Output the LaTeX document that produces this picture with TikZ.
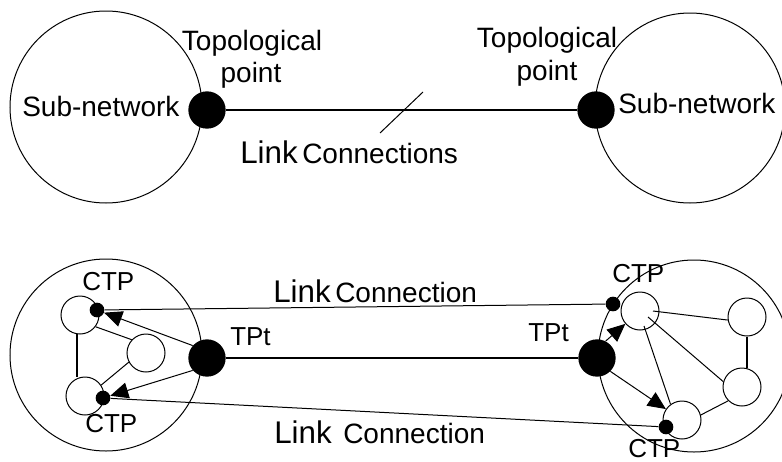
\documentclass[tikz,border=0pt]{standalone}
\usepackage{fontspec}
\setmainfont{Liberation Sans}
\usetikzlibrary{arrows.meta}
\tikzset{
  subnet/.style={circle, draw, line width=0.75pt, minimum size=144pt, inner sep=0pt},
  tpdot/.style={circle, fill=black, minimum size=28pt, inner sep=0pt},
  nelem/.style={circle, draw, line width=0.75pt, minimum size=28.5pt, inner sep=0pt},
  ctpdot/.style={circle, fill=black, minimum size=11pt, inner sep=0pt},
  lbl/.style={inner sep=0pt, anchor=base west, font=\fontsize{21}{24}\selectfont},
  lblc/.style={inner sep=0pt, anchor=base, font=\fontsize{21}{24}\selectfont},
  biglbl/.style={inner sep=0pt, anchor=base west, font=\fontsize{23.5}{27}\selectfont},
  smlbl/.style={inner sep=0pt, anchor=base west, font=\fontsize{19.5}{22}\selectfont},
  thin/.style={line width=0.75pt},
  thick2/.style={line width=1.5pt},
  arr/.style={line width=0.75pt, -{Triangle[length=13.5pt,width=12pt]}},
}
\begin{document}
\begin{tikzpicture}[x=0.75pt,y=-0.75pt]
\useasboundingbox (0,0) rectangle (782,461);
% ---------- top ----------
\node[subnet] (s1) at (106,107) {};
\node[subnet, minimum size=142.5pt] (s2) at (690,108) {};
\node[tpdot] (t1) at (207,110) {};
\node[tpdot] (t2) at (596,110) {};
\draw[thick2] (t1) -- (t2);
\coordinate (sl1) at (380,133);
\coordinate (sl2) at (423,92);
\draw[thin] (sl1) -- (sl2);
\node[lblc] (tl1) at (252,50) {Topological};
\node[lblc] (pl1) at (251,82) {point};
\node[lblc] (tl2) at (547,47) {Topological};
\node[lblc] (pl2) at (547,80) {point};
\node[lbl] (sn1) at (22,116) {Sub-network};
\node[lbl] (sn2) at (618,113) {Sub-network};
\node[biglbl] (lk1) at (240,163) {Link};
\node[lbl] (cn1) at (302,163) {Connections};
% ---------- bottom ----------
\node[subnet] (b1) at (106,355) {};
\node[subnet] (b2) at (694,356) {};
% left subnetwork elements
\node[nelem] (ltl) at (80,315) {};
\node[nelem] (lm) at (146,353) {};
\node[nelem] (lbl) at (85,396) {};
\draw[thin] (ltl.-37) -- (lm.137);
\draw[thin] (lm.208) -- (lbl.34);
\draw[thick2] (ltl.-100) -- (ltl.-100 |- lbl.north);
% right subnetwork elements
\node[nelem] (ra) at (640,311) {};
\node[nelem] (rb) at (747,317) {};
\node[nelem] (rc) at (742,387) {};
\node[nelem] (rd) at (682,420) {};
\coordinate (a1) at (653,311);
\coordinate (a2) at (648,317);
\coordinate (a3) at (644,326);
\draw[thin] (a1) -- (rb.189);
\draw[thick2] (rb.south) -- (rb.south |- rc.north);
\draw[thin] (a2) -- (rc.164);
\draw[thin] (a3) -- (rd.126);
\draw[thin] (rc.225) -- (rd.15);
% TPt and CTP
\node[tpdot] (tpl) at (207,358) {};
\node[tpdot] (tpr) at (597,358) {};
\node[ctpdot] (cl1) at (97,310) {};
\node[ctpdot] (cl2) at (103,398) {};
\node[ctpdot] (cr1) at (613,304) {};
\node[ctpdot] (cr2) at (666,427) {};
\draw[thick2] (tpl) -- (tpr);
\draw[thin] (cl1) -- (cr1);
\draw[thin] (cl2) -- (cr2);
\draw[arr] (tpl.139) -- (cl1);
\draw[arr] (tpl.221) -- (cl2);
\draw[arr] (tpr.63) -- (ra);
\draw[arr] (tpr.-45) -- (rd);
% labels
\node[smlbl] (c1) at (82,290) {CTP};
\node[smlbl] (c2) at (85,432) {CTP};
\node[smlbl] (c3) at (612,282) {CTP};
\node[smlbl] (c4) at (628,457.5) {CTP};
\node[smlbl] (tp1) at (230,345) {TPt};
\node[smlbl] (tp2) at (528,341) {TPt};
\node[biglbl] (lk2) at (273,302) {Link};
\node[lbl] (cn2) at (335,302) {Connection};
\node[biglbl] (lk3) at (274,443) {Link};
\node[lbl] (cn3) at (343,443) {Connection};
\end{tikzpicture}
\end{document}
